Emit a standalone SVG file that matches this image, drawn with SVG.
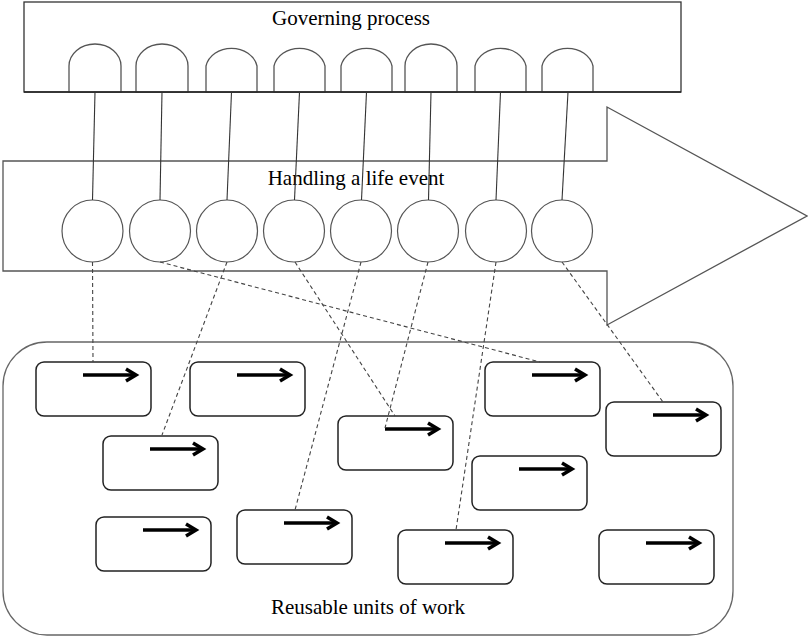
<svg xmlns="http://www.w3.org/2000/svg" width="808" height="636" viewBox="0 0 808 636">
  <defs>
    <style>
      .label { font-family: "Liberation Serif", "Times New Roman", serif; font-size: 21px; fill: #000; text-anchor: middle; }
      .frame { fill: #fff; stroke: #333; stroke-width: 1.3; }
      .gate { fill: #fff; stroke: #555; stroke-width: 1.3; }
      .step { fill: #fff; stroke: #555; stroke-width: 1.2; }
      .flow { fill: #fff; stroke: #555; stroke-width: 1.3; }
      .pool { fill: #fff; stroke: #666; stroke-width: 1.3; }
      .unit { fill: #fff; stroke: #222; stroke-width: 1.5; }
      .dir { stroke: #000; stroke-width: 3.5; fill: none; }
      .head { stroke: #000; stroke-width: 3.5; fill: none; stroke-linejoin: miter; }
      .link { stroke: #333; stroke-width: 1.1; fill: none; }
      .use { stroke: #444; stroke-width: 1.1; fill: none; stroke-dasharray: 4 3; }
    </style>
    <!-- work unit: rounded box with a heavy right-pointing arrow -->
    <g id="unit-shape">
      <rect class="unit" x="0" y="0" width="115" height="54" rx="8" ry="8"/>
      <line class="dir" x1="47" y1="13" x2="99" y2="13"/>
      <polyline class="head" points="90,7 100,13 90,19"/>
    </g>
  </defs>

  <!-- Governing process -->
  <g id="governing-process">
    <rect class="frame" x="24" y="2" width="657" height="90"/>
    <text class="label" x="351" y="25">Governing process</text>
    <g id="gates">
      <path class="gate" d="M69,92 V66 A26,22 0 0 1 121,66 V92 Z"/>
      <path class="gate" d="M136,92 V66 A26,22 0 0 1 188,66 V92 Z"/>
      <path class="gate" d="M206,92 V66 A26,22 0 0 1 257,66 V92 Z"/>
      <path class="gate" d="M274,92 V66 A26,22 0 0 1 325,66 V92 Z"/>
      <path class="gate" d="M341,92 V66 A26,22 0 0 1 392,66 V92 Z"/>
      <path class="gate" d="M405,92 V66 A26,22 0 0 1 457,66 V92 Z"/>
      <path class="gate" d="M475,92 V66 A26,22 0 0 1 526,66 V92 Z"/>
      <path class="gate" d="M542,92 V66 A26,22 0 0 1 593,66 V92 Z"/>
    </g>
    <line x1="24" y1="92" x2="681" y2="92" stroke="#222" stroke-width="1.6"/>
  </g>

  <!-- Handling a life event (block arrow) -->
  <g id="life-event">
    <path class="flow" d="M3,161 H607 V107 L807,216 L607,325 V271 H3 Z"/>
    <text class="label" x="356" y="185">Handling a life event</text>
    <g id="steps">
      <ellipse class="step" cx="92.5" cy="231" rx="30.5" ry="31"/>
      <ellipse class="step" cx="160" cy="231" rx="30.5" ry="31"/>
      <ellipse class="step" cx="227" cy="231" rx="30.5" ry="31"/>
      <ellipse class="step" cx="294" cy="231" rx="30.5" ry="31"/>
      <ellipse class="step" cx="361" cy="231" rx="30.5" ry="31"/>
      <ellipse class="step" cx="428" cy="231" rx="30.5" ry="31"/>
      <ellipse class="step" cx="496" cy="231" rx="30.5" ry="31"/>
      <ellipse class="step" cx="562" cy="231" rx="30.5" ry="31"/>
    </g>
  </g>

  <!-- Reusable units of work -->
  <g id="reusable-units">
    <rect class="pool" x="3" y="342" width="730" height="293" rx="44" ry="44"/>
    <text class="label" x="368" y="614">Reusable units of work</text>
    <use id="unit-1" href="#unit-shape" x="36" y="362"/>
    <use id="unit-2" href="#unit-shape" x="190" y="362"/>
    <use id="unit-3" href="#unit-shape" x="103" y="436"/>
    <use id="unit-4" href="#unit-shape" x="96" y="517"/>
    <use id="unit-5" href="#unit-shape" x="237" y="510"/>
    <use id="unit-6" href="#unit-shape" x="338" y="416"/>
    <use id="unit-7" href="#unit-shape" x="485" y="362"/>
    <use id="unit-8" href="#unit-shape" x="606" y="402"/>
    <use id="unit-9" href="#unit-shape" x="472" y="456"/>
    <use id="unit-10" href="#unit-shape" x="398" y="530"/>
    <use id="unit-11" href="#unit-shape" x="599" y="530"/>
  </g>

  <!-- Connectors -->
  <g id="connectors">
    <!-- governing gates to life-event steps -->
    <line class="link" x1="95" y1="92" x2="92.5" y2="200"/>
    <line class="link" x1="162" y1="92" x2="160" y2="200"/>
    <line class="link" x1="231.5" y1="92" x2="227" y2="200"/>
    <line class="link" x1="299.5" y1="92" x2="294.5" y2="200"/>
    <line class="link" x1="366.5" y1="92" x2="361.5" y2="200"/>
    <line class="link" x1="431" y1="92" x2="428.5" y2="200"/>
    <line class="link" x1="500.5" y1="92" x2="496" y2="200"/>
    <line class="link" x1="568" y1="92" x2="562" y2="200"/>
    <!-- life-event steps to work units -->
    <line class="use" x1="92.5" y1="262" x2="93" y2="362"/>
    <line class="use" x1="160" y1="262" x2="540" y2="362"/>
    <line class="use" x1="227" y1="262" x2="162" y2="435"/>
    <line class="use" x1="295" y1="262" x2="395" y2="416"/>
    <line class="use" x1="361" y1="262" x2="295" y2="510"/>
    <line class="use" x1="428" y1="262" x2="385" y2="428"/>
    <line class="use" x1="496" y1="262" x2="456" y2="530"/>
    <line class="use" x1="562" y1="262" x2="663" y2="402"/>
  </g>
</svg>
